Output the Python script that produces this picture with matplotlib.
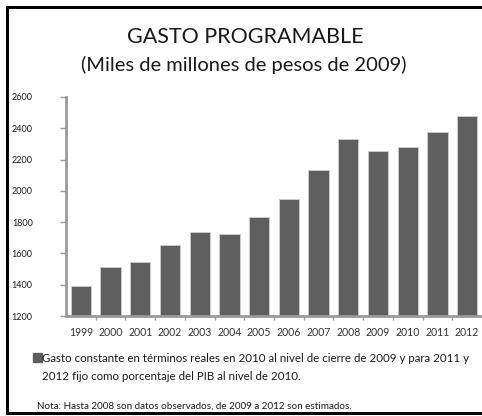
import matplotlib
matplotlib.use("Agg")
import matplotlib.pyplot as plt
from matplotlib.patches import Rectangle
from matplotlib.lines import Line2D

plt.rcParams['font.family'] = ['Lato', 'DejaVu Sans']

years = ['1999', '2000', '2001', '2002', '2003', '2004', '2005',
         '2006', '2007', '2008', '2009', '2010', '2011', '2012']
gasto = [1393, 1514, 1546, 1652, 1739, 1726, 1830,
         1951, 2135, 2331, 2254, 2278, 2375, 2477]
y_ticks = [1200, 1400, 1600, 1800, 2000, 2200, 2400, 2600]

title = "GASTO PROGRAMABLE"
subtitle = "(Miles de millones de pesos de 2009)"
legend_l1 = "Gasto constante en términos reales en 2010 al nivel de cierre de 2009 y para 2011 y"
legend_l2 = "2012 fijo como porcentaje del PIB al nivel de 2010."
note = "Nota: Hasta 2008 son datos observados, de 2009 a 2012 son estimados."

W, H = 482, 416
fig = plt.figure(figsize=(W / 100, H / 100), dpi=100)

def fx(px):
    return px / W

def fy(py):
    return 1 - py / H

bar_color = '#5f5f5f'
axis_color = '#9a9a9a'
text_color = '#1a1a1a'

ax = fig.add_axes([fx(66), fy(316), fx(482) - fx(66), fy(97) - fy(316)])
x = list(range(len(years)))
ax.bar(x, [v - 1200 for v in gasto], bottom=1200, width=0.68,
       color=bar_color, edgecolor='#d0d0d0', linewidth=0.6, zorder=2)
ax.set_xlim(-0.5, len(years) - 0.5)
ax.set_ylim(1200, 2600)
ax.set_yticks(y_ticks)
ax.set_yticklabels([str(t) for t in y_ticks], fontsize=6.5, color=text_color)
for s in ('top', 'right'):
    ax.spines[s].set_visible(False)
for s in ('left', 'bottom'):
    ax.spines[s].set_color(axis_color)
    ax.spines[s].set_linewidth(2)
ax.tick_params(axis='y', direction='out', length=4, width=1, color=axis_color, pad=20)
# year labels centred on the bars, ticks on category boundaries
ax.set_xticks(x)
ax.set_xticklabels(years, fontsize=7.6, color='#333333')
ax.tick_params(axis='x', length=0, pad=8)
ax.set_xticks([i + 0.5 for i in x[:-1]], minor=True)
ax.tick_params(axis='x', which='minor', direction='out', length=3, width=1, color=axis_color)
ax.patch.set_visible(False)

fig.text(fx(245), fy(37), title, ha='center', va='center', fontsize=15.5, color=text_color)
fig.text(fx(244), fy(65), subtitle, ha='center', va='center', fontsize=14.5,
         color=text_color)

# legend swatch and text
fig.patches.append(Rectangle((fx(33), fy(362)), fx(9), 9 / H, transform=fig.transFigure,
                             color=bar_color, figure=fig))
fig.text(fx(42), fy(358), legend_l1, ha='left', va='center', fontsize=8.3, color=text_color)
fig.text(fx(42), fy(376), legend_l2, ha='left', va='center', fontsize=8.3, color=text_color)
fig.text(fx(37), fy(406), note, ha='left', va='center', fontsize=7.1, color=text_color)

# frame around the chart (left, top, bottom)
lw = 3 * 72 / 100
fig.add_artist(Line2D([fx(6.5), fx(6.5)], [fy(6.5), fy(413)], color='black', lw=lw,
                      transform=fig.transFigure, solid_capstyle='projecting'))
fig.add_artist(Line2D([fx(6.5), fx(490)], [fy(6.5), fy(6.5)], color='black', lw=lw,
                      transform=fig.transFigure))
fig.add_artist(Line2D([fx(6.5), fx(490)], [fy(413), fy(413)], color='black', lw=lw,
                      transform=fig.transFigure))

fig.savefig('out.png', dpi=100)
